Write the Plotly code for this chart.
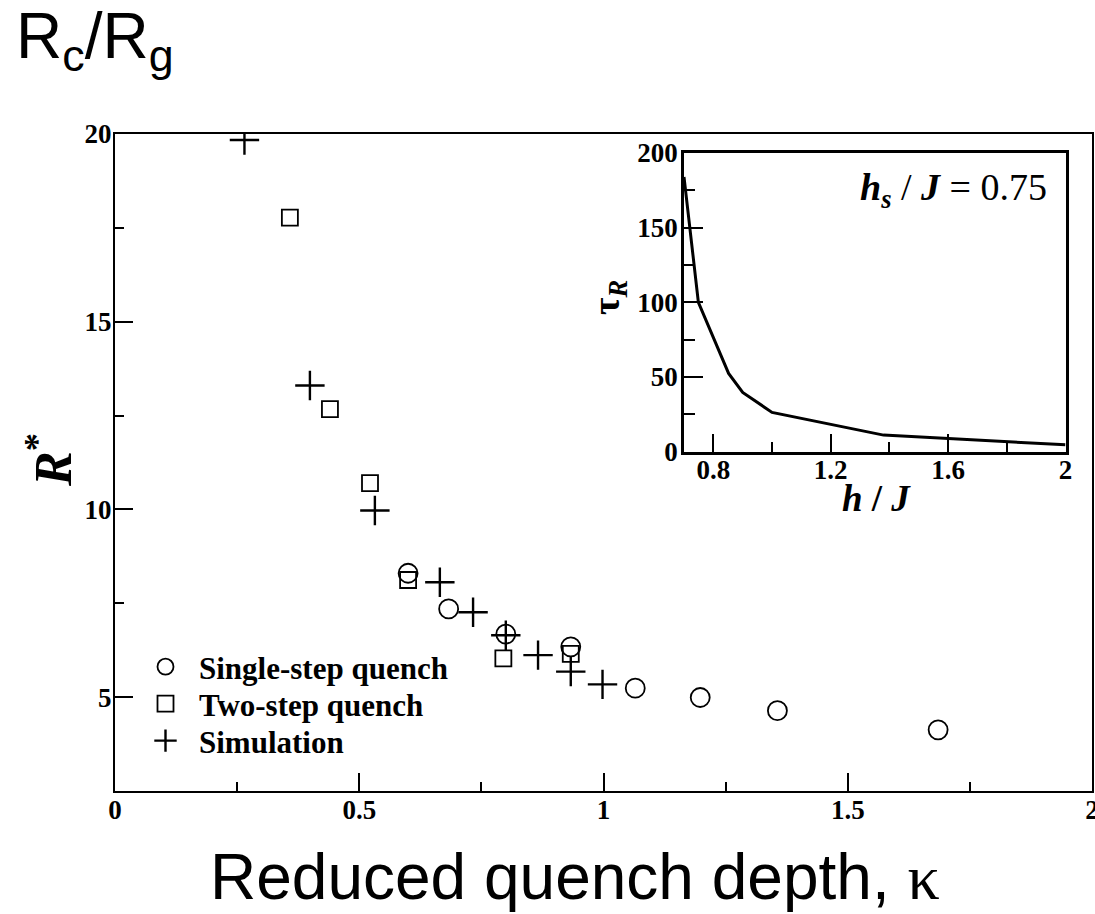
import plotly.graph_objects as go

# ---- data ----
kappa_single = [0.60, 0.683, 0.80, 0.933, 1.065, 1.198, 1.356, 1.685]
R_single = [8.30, 7.35, 6.68, 6.34, 5.24, 4.99, 4.64, 4.13]

kappa_two = [0.358, 0.44, 0.522, 0.60, 0.795, 0.933]
R_two = [17.77, 12.67, 10.70, 8.12, 6.03, 6.15]

kappa_sim = [0.265, 0.399, 0.532, 0.665, 0.733, 0.80, 0.866, 0.933, 0.998]
R_sim = [19.84, 13.30, 9.97, 8.06, 7.26, 6.65, 6.12, 5.68, 5.34]

h_over_J = [0.70, 0.749, 0.852, 0.90, 1.00, 1.38, 2.00]
tau_R = [184, 100, 52.4, 39.7, 26.3, 11.1, 4.6]

W, H = 1095, 914
SERIF = "Liberation Serif"
SANS = "Liberation Sans"


def px_x(p):
    return p / W


def px_y(p):
    return (H - p) / H


fig = go.Figure()

fig.add_trace(go.Scatter(
    x=kappa_single, y=R_single, mode="markers", name="Single-step quench",
    marker=dict(symbol="circle-open", size=19, color="black", line=dict(width=1.8)),
    xaxis="x", yaxis="y", legend="legend"))
fig.add_trace(go.Scatter(
    x=kappa_two, y=R_two, mode="markers", name="Two-step quench",
    marker=dict(symbol="square-open", size=16, color="black", line=dict(width=1.8)),
    xaxis="x", yaxis="y", legend="legend2"))
fig.add_trace(go.Scatter(
    x=kappa_sim, y=R_sim, mode="markers", name="Simulation",
    marker=dict(symbol="cross-thin-open", size=21, color="black", line=dict(width=2.4)),
    xaxis="x", yaxis="y", legend="legend3"))

fig.add_trace(go.Scatter(
    x=h_over_J, y=tau_R, mode="lines", showlegend=False,
    line=dict(color="black", width=3), xaxis="x2", yaxis="y2"))

tickfont = dict(family=SERIF, size=27, color="black", weight="bold")

common = dict(showgrid=False, zeroline=False, showline=True, linecolor="black",
              mirror=True, ticks="inside", tickcolor="black", tickfont=tickfont,
              automargin=False, tickmode="linear", ticklabeloverflow="allow")

legfont = dict(family=SERIF, size=31, color="black", weight="bold")


def leg(ycenter):
    return dict(x=px_x(132), y=px_y(ycenter), xanchor="left", yanchor="middle",
                bgcolor="rgba(0,0,0,0)", font=legfont, itemwidth=57,
                borderwidth=0)


fig.update_layout(
    template="none",
    width=W, height=H,
    margin=dict(l=0, r=0, t=0, b=0, autoexpand=False),
    paper_bgcolor="white", plot_bgcolor="white",
    showlegend=True,
    legend=leg(667),
    legend2=leg(704),
    legend3=leg(741),
    xaxis=dict(domain=[px_x(115), px_x(1092)], range=[0, 2], anchor="y",
               tick0=0, dtick=0.5, ticklen=18, tickwidth=1.5, linewidth=2,
               ticklabelstandoff=-6,
               minor=dict(ticks="inside", ticklen=9, dtick=0.25, tick0=0, tickwidth=1.5,
                          tickcolor="black", showgrid=False),
               **common),
    yaxis=dict(domain=[px_y(791), px_y(134)], range=[2.5, 20], anchor="x",
               tick0=0, dtick=5, ticklen=18, tickwidth=1.5, linewidth=2,
               ticklabelstandoff=-4,
               minor=dict(ticks="inside", ticklen=9, dtick=2.5, tick0=0, tickwidth=1.5,
                          tickcolor="black", showgrid=False),
               **common),
    xaxis2=dict(domain=[px_x(684), px_x(1065.5)], range=[0.7, 2], anchor="y2",
                tick0=0.8, dtick=0.4, ticklen=18, tickwidth=1.5, linewidth=2.5,
                ticklabelstandoff=-8,
                minor=dict(ticks="inside", ticklen=10, dtick=0.2, tick0=0.8, tickwidth=1.5,
                           tickcolor="black", showgrid=False),
                **common),
    yaxis2=dict(domain=[px_y(451.7), px_y(153)], range=[0, 200], anchor="x2",
                tick0=0, dtick=50, ticklen=19, tickwidth=1.5, linewidth=2.5,
                ticklabelstandoff=-2,
                minor=dict(ticks="inside", ticklen=11, dtick=25, tick0=0, tickwidth=1.5,
                           tickcolor="black", showgrid=False),
                **common),
)

annotations = [
    # top-left title
    dict(x=px_x(14), y=px_y(-2), xref="paper", yref="paper", xanchor="left", yanchor="top",
         text="R<sub>c</sub>/R<sub>g</sub>", showarrow=False,
         font=dict(family=SANS, size=64, color="black")),
    # bottom title
    dict(x=px_x(575), y=px_y(877), xref="paper", yref="paper", xanchor="center", yanchor="middle",
         text="Reduced quench depth, <span style='font-family:Liberation Serif'>\u03ba</span>",
         showarrow=False, font=dict(family=SANS, size=64, color="black")),
    # main y title
    dict(x=px_x(50), y=px_y(460), xref="paper", yref="paper", xanchor="center", yanchor="middle",
         text="<b><i>R</i></b><sup><b>*</b></sup>", textangle=-90, showarrow=False,
         font=dict(family=SERIF, size=52, color="black")),
    # inset x title
    dict(x=px_x(876), y=px_y(498), xref="paper", yref="paper", xanchor="center", yanchor="middle",
         text="<b><i>h</i> / <i>J</i></b>", showarrow=False,
         font=dict(family=SERIF, size=37, color="black")),
    # inset y title
    dict(x=px_x(609), y=px_y(298), xref="paper", yref="paper", xanchor="center", yanchor="middle",
         text="<b>\u03c4</b><sub><b><i>R</i></b></sub>", textangle=-90, showarrow=False,
         font=dict(family=SERIF, size=38, color="black")),
    # inset label
    dict(x=px_x(953), y=px_y(190), xref="paper", yref="paper", xanchor="center", yanchor="middle",
         text="<b><i>h</i></b><sub><b><i>s</i></b></sub> / <b><i>J</i></b> = 0.75",
         showarrow=False, font=dict(family=SERIF, size=38, color="black")),
]
fig.update_layout(annotations=annotations)

fig.write_html("out.html")
